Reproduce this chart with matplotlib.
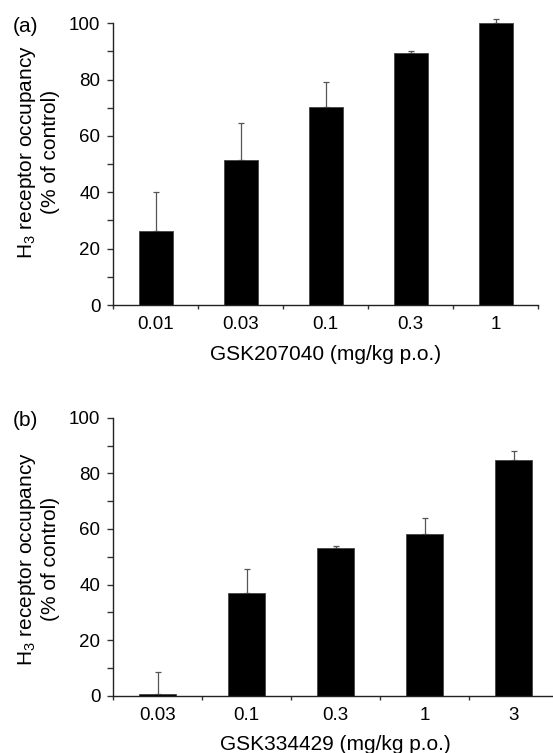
import numpy as np
import matplotlib
matplotlib.use('Agg')
import matplotlib.pyplot as plt

plt.rcParams['font.family'] = ['Liberation Sans', 'DejaVu Sans']
plt.rcParams['mathtext.fontset'] = 'custom'
plt.rcParams['mathtext.rm'] = 'Liberation Sans'
plt.rcParams['mathtext.it'] = 'Liberation Sans:italic'

# ── data ────────────────────────────────────────────────────────────────────
doses_a = ['0.01', '0.03', '0.1', '0.3', '1']
occ_a = [26.3, 51.4, 70.3, 89.5, 100.0]
err_a = [13.7, 13.2, 9.0, 0.8, 1.4]

doses_b = ['0.03', '0.1', '0.3', '1', '3']
occ_b = [0.5, 36.9, 53.0, 58.0, 84.8]
err_b = [8.1, 8.5, 1.0, 6.1, 3.2]

ylab = 'H$_3$ receptor occupancy\n(% of control)'
W, H = 553, 753
fig = plt.figure(figsize=(W / 100, H / 100), dpi=100)

TICK_FS = 13.5
LAB_FS = 15

def panel(px, doses, occ, err, xlabel, tag, tag_y, bw, ylab_y, xlab_base):
    # px = (left, right, top, bottom) in pixels
    l, r, t, b = px
    ax = fig.add_axes([l / W, 1 - b / H, (r - l) / W, (b - t) / H])
    x = np.arange(len(doses))
    ax.bar(x, occ, width=bw, color='black', edgecolor='#444444', lw=0.6, zorder=2)
    ax.errorbar(x, occ, yerr=[np.zeros(len(err)), err], fmt='none',
                ecolor='#555555', elinewidth=0.9, capsize=2.2, capthick=0.9,
                zorder=1, clip_on=False)
    ax.set_xlim(-0.5, len(doses) - 0.5)
    ax.set_ylim(0, 100)
    ax.set_yticks(range(0, 101, 20))
    ax.set_yticks(range(10, 100, 20), minor=True)
    ax.set_xticks(np.arange(len(doses) + 1) - 0.5)
    ax.set_xticklabels([])
    ax.set_xticks(x, minor=True)
    ax.set_xticklabels(doses, minor=True)
    ax.tick_params(axis='x', which='major', direction='out', length=3,
                   width=1, color='#333333')
    ax.tick_params(axis='x', which='minor', length=0, pad=8, labelsize=TICK_FS)
    ax.tick_params(axis='y', which='both', direction='out', length=4,
                   width=1, color='#333333', pad=5, labelsize=TICK_FS)
    for s in ['top', 'right']:
        ax.spines[s].set_visible(False)
    for s in ['left', 'bottom']:
        ax.spines[s].set_color('#222222')
        ax.spines[s].set_linewidth(1.0)
    fig.text((l + r) / 2 / W, 1 - xlab_base / H, xlabel, fontsize=LAB_FS,
             ha='center', va='baseline')
    fig.text(38 / W, 1 - ylab_y / H, ylab, fontsize=LAB_FS, rotation=90,
             ha='center', va='center', linespacing=1.25, multialignment='center')
    fig.text(13 / W, 1 - tag_y / H, tag, fontsize=LAB_FS, va='center', ha='left')
    return ax

panel((113, 538, 23.3, 305), doses_a, occ_a, err_a,
      'GSK207040 (mg/kg p.o.)', '(a)', 26, 0.4, 152, 360)
panel((113, 558, 417.7, 695.7), doses_b, occ_b, err_b,
      'GSK334429 (mg/kg p.o.)', '(b)', 421, 0.42, 559, 750)

fig.savefig('out.png', dpi=100)
